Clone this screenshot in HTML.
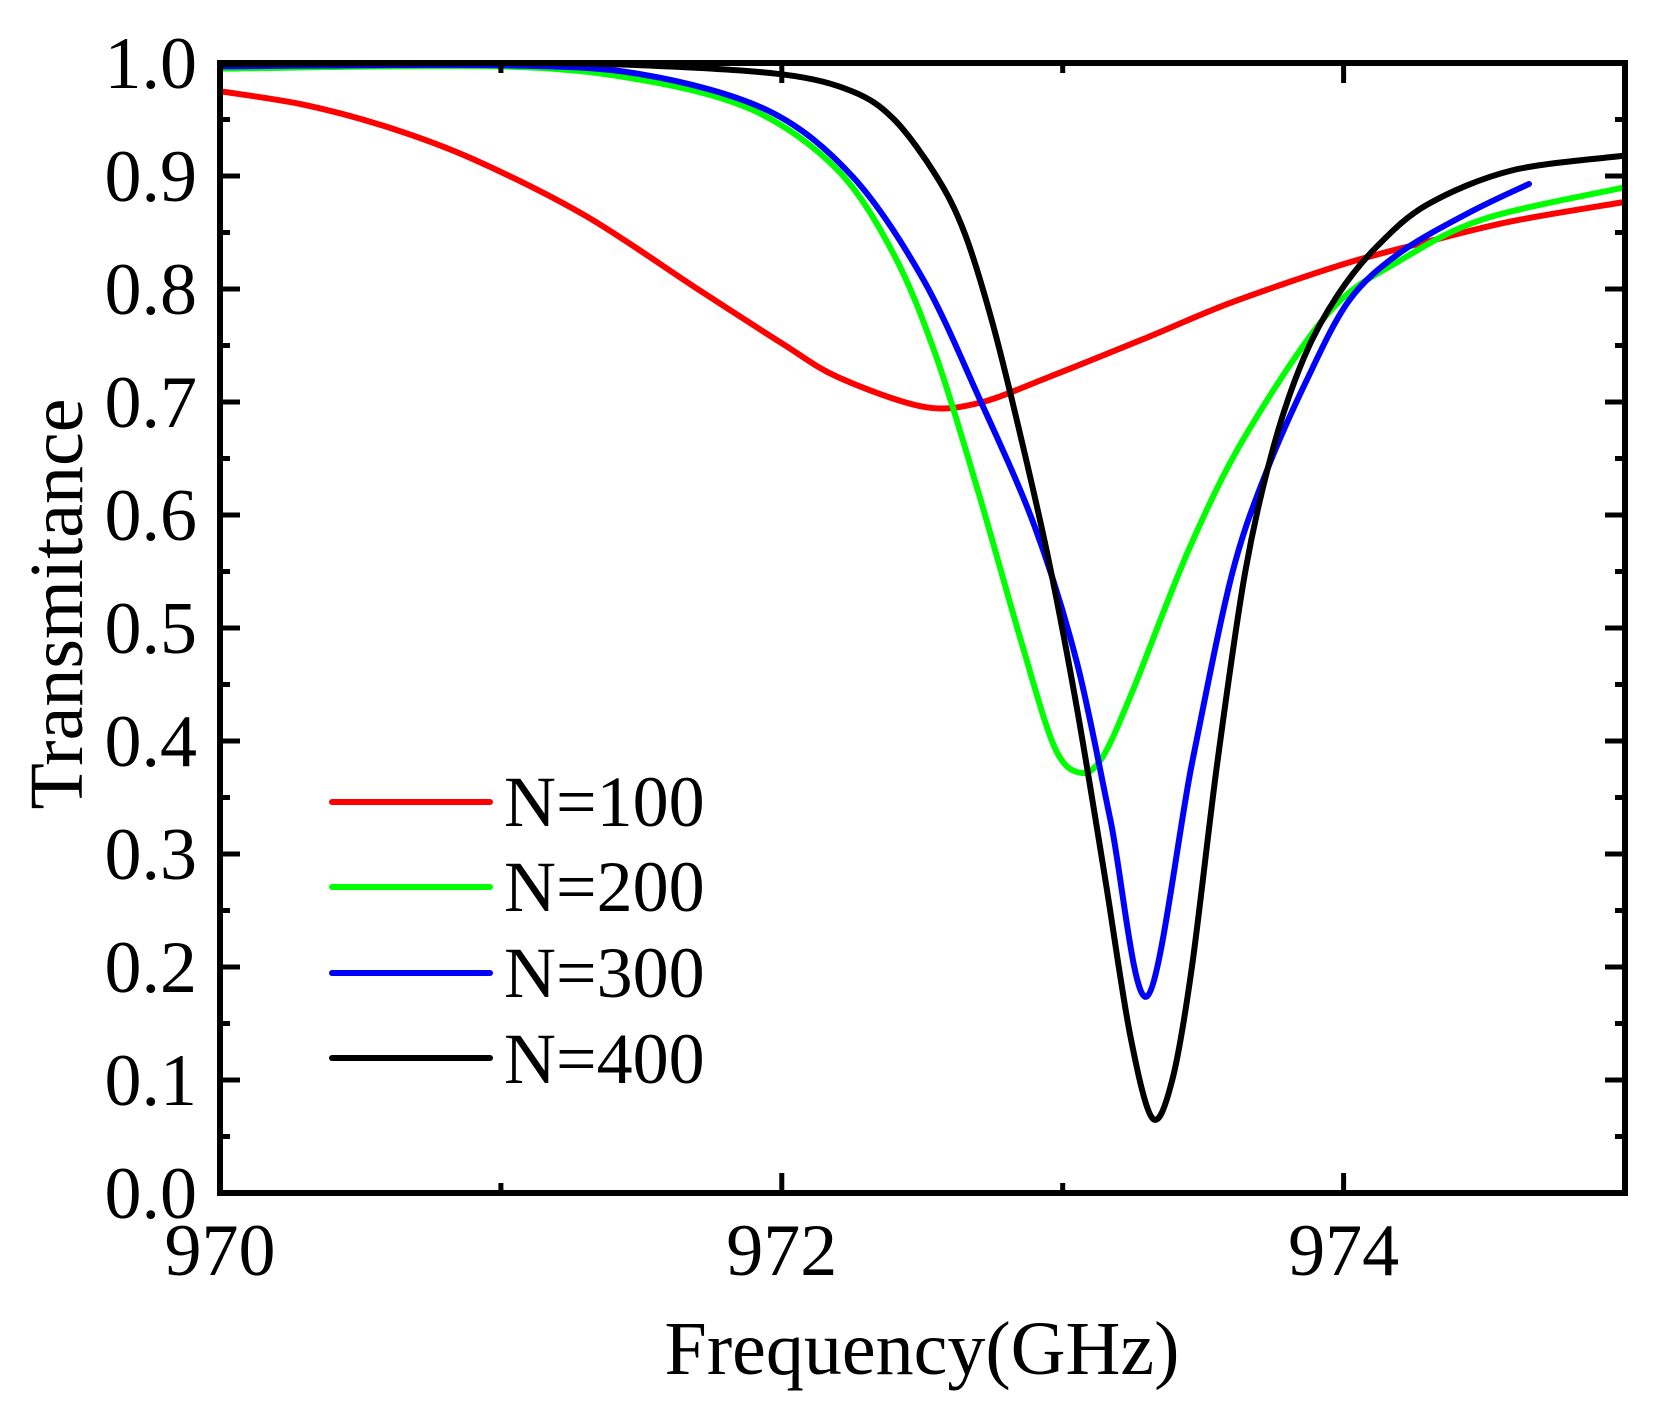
<!DOCTYPE html>
<html><head><meta charset="utf-8"><style>
html,body{margin:0;padding:0;background:#fff;}
svg{display:block;font-family:"Liberation Serif",serif;}
</style></head><body>
<svg id="s" width="1668" height="1409" viewBox="0 0 1668 1409" xmlns="http://www.w3.org/2000/svg">
<defs><clipPath id="c"><rect x="220" y="63" width="1405" height="1130"/></clipPath></defs>
<g id="curves" clip-path="url(#c)" fill="none" stroke-width="6" stroke-linejoin="round" stroke-linecap="round"></g>
<rect x="220" y="63" width="1405" height="1130" fill="none" stroke="#000" stroke-width="6"/>
<g id="ticks" stroke="#000" stroke-width="5"></g>
<g id="labels" font-size="74" fill="#000"></g>
<text x="922" y="1374" font-size="76" text-anchor="middle">Frequency(GHz)</text>
<text transform="translate(82,604) rotate(-90)" font-size="76" text-anchor="middle">Transmitance</text>
<g stroke-width="6" stroke-linecap="round">
<line x1="332" y1="802" x2="490" y2="802" stroke="#ff0000"/>
<line x1="332" y1="887" x2="490" y2="887" stroke="#00ff00"/>
<line x1="332" y1="973" x2="490" y2="973" stroke="#0000ff"/>
<line x1="332" y1="1058" x2="490" y2="1058" stroke="#000"/>
</g>
<g font-size="72">
<text x="504" y="826">N=100</text>
<text x="504" y="911">N=200</text>
<text x="504" y="997">N=300</text>
<text x="504" y="1083">N=400</text>
</g>
</svg>
<script>
var X=function(f){return 220+(f-970)*280.9;};
var Y=function(t){return 1193-t*1130;};
var NS="http://www.w3.org/2000/svg";
function el(p,n,a,txt){var e=document.createElementNS(NS,n);for(var k in a)e.setAttribute(k,a[k]);if(txt)e.textContent=txt;p.appendChild(e);return e;}
var tk=document.getElementById('ticks'),lb=document.getElementById('labels');
for(var i=0;i<=20;i++){var y=Y(i*0.05),L=(i%2==0)?20:10;
 el(tk,'line',{x1:220,y1:y,x2:220+L,y2:y});el(tk,'line',{x1:1625,y1:y,x2:1625-L,y2:y});
 if(i%2==0)el(lb,'text',{x:197,y:y+25,'text-anchor':'end'},(i*0.05).toFixed(1));}
for(var f=970;f<=975;f++){var x=X(f),L=(f%2==0)?20:10;
 el(tk,'line',{x1:x,y1:1193,x2:x,y2:1193-L});el(tk,'line',{x1:x,y1:63,x2:x,y2:63+L});
 if(f%2==0)el(lb,'text',{x:x,y:1275,'text-anchor':'middle'},String(f));}
var D={
'#ff0000':[[970,.975],[970.3,.963],[970.6,.943],[970.9,.915],[971.3,.865],[971.7,.8],[972,.752],[972.2,.722],[972.5,.696],[972.7,.699],[972.95,.722],[973.3,.757],[973.6,.788],[974,.822],[974.3,.842],[974.6,.86],[975,.877]],
'#00ff00':[[970,.995],[971,.997],[971.5,.985],[971.9,.958],[972.2,.905],[972.4,.83],[972.55,.74],[972.7,.62],[972.85,.49],[972.97,.395],[973.06,.372],[973.14,.385],[973.25,.445],[973.45,.57],[973.65,.67],[973.95,.78],[974.2,.825],[974.5,.862],[975,.89]],
'#0000ff':[[970,.997],[971,.998],[971.5,.99],[971.95,.958],[972.25,.9],[972.5,.81],[972.7,.705],[972.9,.59],[973.05,.47],[973.17,.33],[973.3,.174],[973.46,.38],[973.6,.545],[973.72,.635],[973.87,.72],[974.02,.79],[974.2,.832],[974.45,.868],[974.66,.893]],
'#000000':[[970,.999],[971,1],[971.5,.998],[972,.99],[972.25,.975],[972.4,.95],[972.55,.9],[972.65,.85],[972.75,.77],[972.85,.67],[972.95,.56],[973.05,.43],[973.15,.28],[973.24,.14],[973.32,.066],[973.39,.1],[973.46,.2],[973.55,.38],[973.65,.55],[973.75,.66],[973.86,.74],[973.98,.795],[974.12,.838],[974.3,.875],[974.6,.905],[975,.918]]};
var g=document.getElementById('curves');
for(var c in D){var p=D[c].map(function(q){return[X(q[0]),Y(q[1])];});
 var d='M'+p[0][0]+','+p[0][1];
 for(var i=0;i<p.length-1;i++){var p0=p[i-1]||p[i],p1=p[i],p2=p[i+1],p3=p[i+2]||p2,t=0.16;
  d+=' C'+(p1[0]+(p2[0]-p0[0])*t)+','+(p1[1]+(p2[1]-p0[1])*t)+' '+(p2[0]-(p3[0]-p1[0])*t)+','+(p2[1]-(p3[1]-p1[1])*t)+' '+p2[0]+','+p2[1];}
 el(g,'path',{d:d,stroke:c});}
</script>
</body></html>
